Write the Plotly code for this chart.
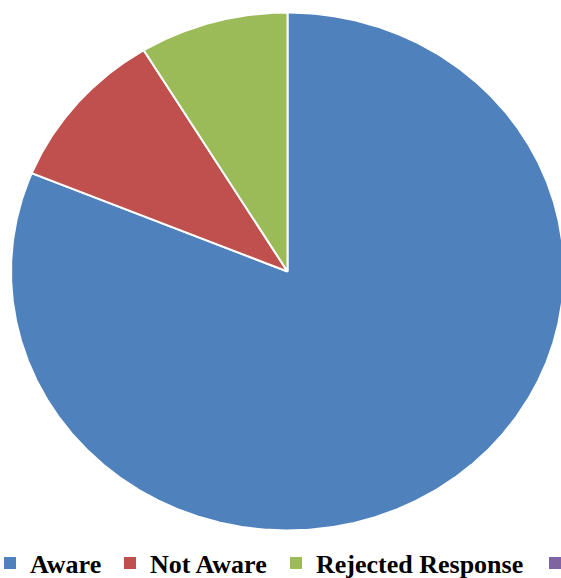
import numpy as np
import plotly.graph_objects as go

# Survey responses (percent of respondents)
categories = ["Aware", "Not Aware", "Rejected Response"]
shares = [81.2, 10.1, 8.7]
colors = ["#4F81BD", "#C0504D", "#9BBB59"]
# fourth legend swatch at the right edge (label runs off the page)
extra_color = "#8064A2"

W, H = 561, 578
# pie centre and radii in pixels (slightly wider than tall)
cx, cy, rx, ry = 287.5, 271.5, 276.5, 259.0

fig = go.Figure()

total = sum(shares)
start = 0.0
for name, val, col in zip(categories, shares, colors):
    span = 360.0 * val / total
    # clockwise from 12 o'clock
    t = np.radians(np.linspace(start, start + span, max(int(span * 3), 4)))
    xs = np.concatenate([[0.0], np.sin(t), [0.0]])
    ys = np.concatenate([[0.0], np.cos(t), [0.0]])
    fig.add_trace(go.Scatter(
        x=xs, y=ys, mode="lines", fill="toself", fillcolor=col,
        line=dict(color="white", width=2), showlegend=False,
        name=name, hoverinfo="name",
    ))
    start += span

# legend entries, one legend each so they sit along the bottom row
legend_names = categories + [" "]
legend_colors = colors + [extra_color]
legend_left_px = [-10, 110, 276, 535]
legend_ids = ["legend", "legend2", "legend3", "legend4"]
for name, col, lid in zip(legend_names, legend_colors, legend_ids):
    fig.add_trace(go.Scatter(
        x=[None], y=[None], mode="markers", name=name,
        marker=dict(symbol="square", size=12, color=col),
        legend=lid,
    ))

legend_font = dict(family="Liberation Serif, Times New Roman, serif",
                   size=26, color="black", weight="bold")
legend_layout = {}
for lid, lx in zip(legend_ids, legend_left_px):
    legend_layout[lid] = dict(
        x=lx / W, xanchor="left", y=1 - 563 / H, yanchor="middle",
        orientation="h", font=legend_font, bgcolor="rgba(0,0,0,0)",
        borderwidth=0, itemclick=False, itemdoubleclick=False,
    )

fig.update_layout(
    width=W, height=H,
    margin=dict(l=0, r=0, t=0, b=0, pad=0, autoexpand=False),
    paper_bgcolor="white", plot_bgcolor="white",
    xaxis=dict(range=[-cx / rx, (W - cx) / rx], visible=False, fixedrange=True),
    yaxis=dict(range=[-(H - cy) / ry, cy / ry], visible=False, fixedrange=True),
    showlegend=True,
    **legend_layout,
)

fig.write_html("out.html")
